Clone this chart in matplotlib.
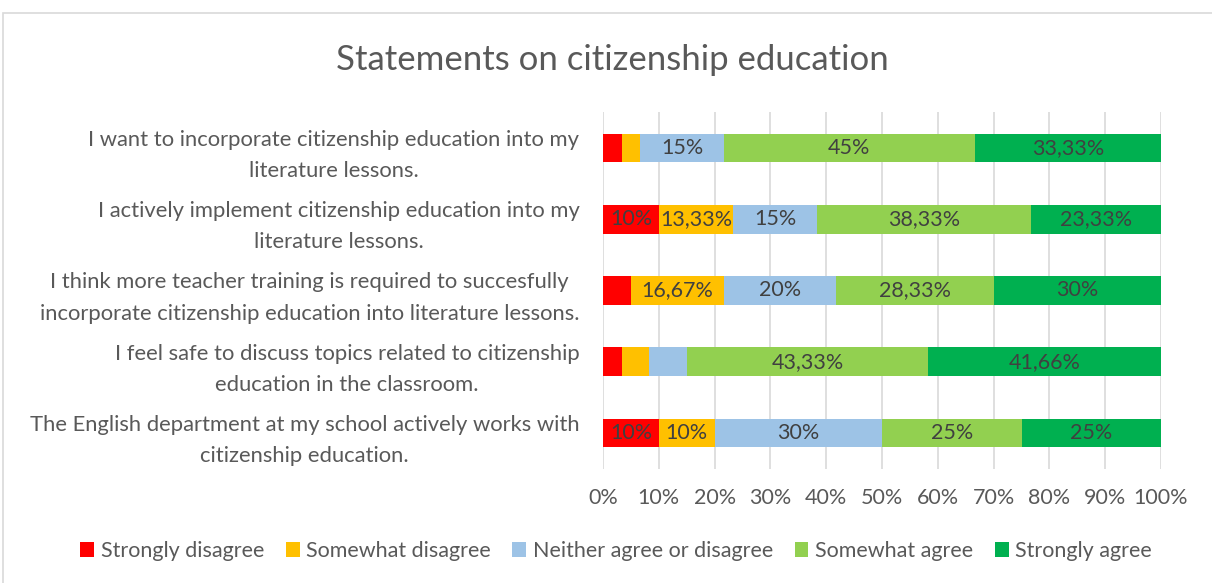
import numpy as np
import matplotlib.pyplot as plt
from matplotlib.patches import Rectangle

plt.rcParams['font.family'] = ['Lato', 'DejaVu Sans']

statements = [
    'I want to incorporate citizenship education into my\nliterature lessons.',
    'I actively implement citizenship education into my\nliterature lessons.',
    'I think more teacher training is required to succesfully\nincorporate citizenship education into literature lessons.',
    'I feel safe to discuss topics related to citizenship\neducation in the classroom.',
    'The English department at my school actively works with\ncitizenship education.',
]
answers = ['Strongly disagree', 'Somewhat disagree', 'Neither agree or disagree',
           'Somewhat agree', 'Strongly agree']
strongly_disagree = [3.33, 10, 5, 3.33, 10]
somewhat_disagree = [3.33, 13.33, 16.67, 5, 10]
neither = [15, 15, 20, 6.67, 30]
somewhat_agree = [45, 38.33, 28.33, 43.33, 25]
strongly_agree = [33.33, 23.33, 30, 41.66, 25]
colors = ['#FF0000', '#FFC000', '#9DC3E6', '#92D050', '#00B050']

series = [strongly_disagree, somewhat_disagree, neither, somewhat_agree, strongly_agree]

fig = plt.figure(figsize=(12.12, 5.83), dpi=100)
fig.patches.append(Rectangle((3 / 1212, -0.01), 1.02, 1 - 13 / 583 + 0.01,
                             transform=fig.transFigure, fill=False,
                             edgecolor='#D9D9D9', linewidth=1.2))
ax = fig.add_axes([603 / 1212, 1 - 468.6 / 583, 558 / 1212, 356.2 / 583])

y = np.arange(len(statements))
left = np.zeros(len(statements))
for name, vals, c in zip(answers, series, colors):
    vals = np.array(vals)
    bars = ax.barh(y, vals, left=left, height=0.4, color=c, label=name, zorder=2)
    for b, v in zip(bars, vals):
        # only the larger segments carry a label, like the original
        if v >= 10:
            txt = f'{v:.2f}'.rstrip('0').rstrip('.').replace('.', ',') + '%'
            ax.text(b.get_x() + b.get_width() / 2, b.get_y() + b.get_height() / 2,
                    txt, ha='center', va='center', fontsize=15.5, color='#404040')
    left += vals

ax.set_xlim(0, 100)
ax.set_ylim(len(statements) - 0.5, -0.5)
ax.set_xticks(np.arange(0, 101, 10))
ax.set_xticklabels([f'{t}%' for t in range(0, 101, 10)])
ax.set_yticks(y)
ax.set_yticklabels(statements, multialignment='center', linespacing=1.7)
for lbl in ax.get_yticklabels():
    lbl.set_y(lbl.get_position()[1])
ax.tick_params(axis='x', length=0, labelsize=15.5, labelcolor='#595959', pad=14)
ax.tick_params(axis='y', length=0, labelsize=15.8, labelcolor='#595959', pad=17)
ax.grid(axis='x', color='#D9D9D9', linewidth=1.2, zorder=0)
ax.set_axisbelow(True)
for s in ax.spines.values():
    s.set_visible(False)

fig.text(612 / 1212, 1 - 60 / 583, 'Statements on citizenship education',
         ha='center', va='center', fontsize=25, color='#595959')

handles, labels = ax.get_legend_handles_labels()
fig.legend(handles, labels, loc='center', bbox_to_anchor=(616 / 1212, 1 - 551 / 583),
           ncol=5, frameon=False, fontsize=15.5, labelcolor='#595959',
           handlelength=0.65, handleheight=0.65, handletextpad=0.3, columnspacing=1.0)

fig.savefig('out.png', dpi=100)
